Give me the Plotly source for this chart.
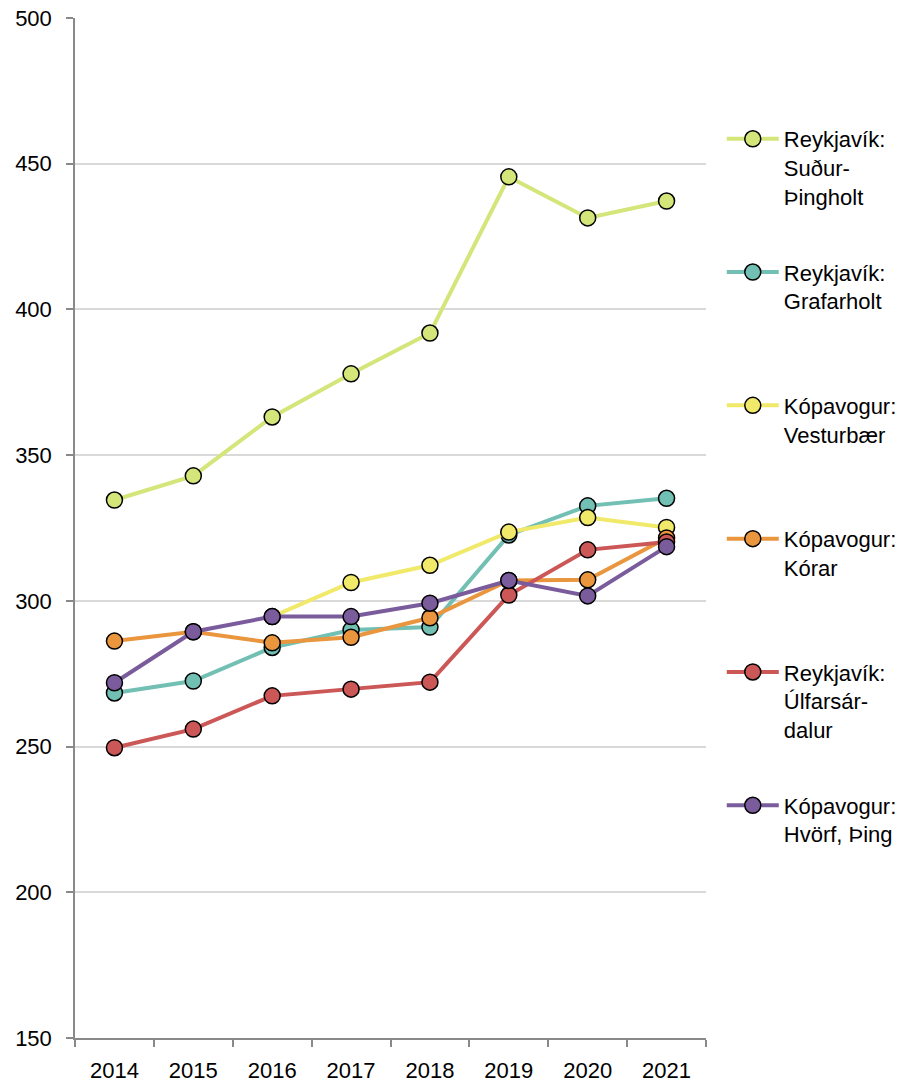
import plotly.graph_objects as go

years = ["2014", "2015", "2016", "2017", "2018", "2019", "2020", "2021"]

sudur_thingholt = [334.6, 342.9, 363.1, 377.9, 391.9, 445.5, 431.4, 437.2]
grafarholt = [268.4, 272.5, 284.0, 290.0, 291.0, 322.6, 332.6, 335.2]
vesturbaer = [None, None, 294.6, 306.3, 312.2, 323.6, 328.6, 325.2]
korar = [286.2, 289.4, 285.6, 287.5, 294.2, 307.0, 307.2, 321.6]
ulfarsardalur = [249.6, 256.0, 267.4, 269.7, 272.1, 302.0, 317.5, 320.2]
hvorf_thing = [271.9, 289.4, 294.6, 294.6, 299.2, 307.0, 301.7, 318.6]

names = [
    "Reykjavík:<br>Suður-<br>Þingholt",
    "Reykjavík:<br>Grafarholt<br>\u00a0",
    "Kópavogur:<br>Vesturbær<br>\u00a0",
    "Kópavogur:<br>Kórar<br>\u00a0",
    "Reykjavík:<br>Úlfarsár-<br>dalur",
    "Kópavogur:<br>Hvörf, Þing<br>\u00a0",
]
series = [sudur_thingholt, grafarholt, vesturbaer, korar, ulfarsardalur, hvorf_thing]
colors = ["#d4e57a", "#72bfb4", "#f0e96a", "#e9963e", "#cc5757", "#7a5c9c"]

fig = go.Figure()
for i, (nm, vals, col) in enumerate(zip(names, series, colors)):
    fig.add_trace(go.Scatter(
        x=years, y=vals, name=nm, mode="lines+markers",
        legendgroup=f"g{i}",
        line=dict(color=col, width=4),
        marker=dict(size=16, color=col, line=dict(color="black", width=1.5)),
        connectgaps=False,
    ))

font = dict(family="Liberation Sans, Arial, sans-serif", size=22, color="black")

fig.update_layout(
    width=910, height=1082,
    margin=dict(l=75, r=204, t=18, b=44, autoexpand=False),
    paper_bgcolor="white", plot_bgcolor="white",
    font=font,
    showlegend=True,
    legend=dict(
        x=1.025, xanchor="left", y=0.902, yanchor="top",
        traceorder="grouped", tracegroupgap=44.5, valign="top",
        font=font, bgcolor="rgba(0,0,0,0)", itemwidth=52,
    ),
    xaxis=dict(
        type="category", range=[-0.5, 7.5], tickson="boundaries",
        ticks="outside", ticklen=7, tickcolor="#898989", tickwidth=1.5,
        showline=True, linecolor="#898989", linewidth=1.5,
        showgrid=False, zeroline=False, ticklabelstandoff=12,
        tickfont=font, fixedrange=True, automargin=False,
    ),
    yaxis=dict(
        range=[150, 500], dtick=50, tick0=150,
        ticks="outside", ticklen=7, tickcolor="#898989", tickwidth=1.5,
        showline=True, linecolor="#898989", linewidth=1.5,
        showgrid=True, gridcolor="#d9d9d9", gridwidth=1.5,
        zeroline=False, ticklabelstandoff=10, tickfont=font, automargin=False,
    ),
)

fig.write_html("out.html")
